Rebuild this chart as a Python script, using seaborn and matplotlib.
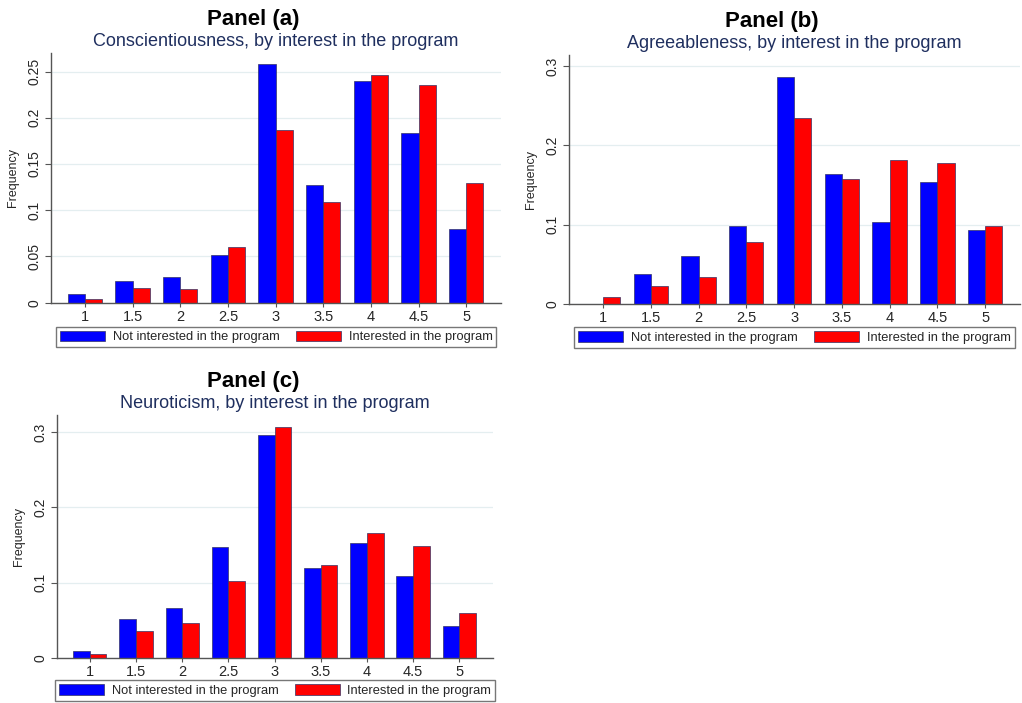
import matplotlib
matplotlib.use("Agg")
import matplotlib.pyplot as plt
import pandas as pd
import seaborn as sns

SCORES = ["1", "1.5", "2", "2.5", "3", "3.5", "4", "4.5", "5"]
GROUPS = ["Not interested in the program", "Interested in the program"]

consc_not = [0.0094, 0.0235, 0.028, 0.0517, 0.258, 0.127, 0.2395, 0.183, 0.080]
consc_int = [0.004, 0.016, 0.0145, 0.060, 0.187, 0.109, 0.2457, 0.235, 0.129]

agree_not = [0.0, 0.0374, 0.0606, 0.098, 0.2857, 0.1637, 0.103, 0.1544, 0.0938]
agree_int = [0.0088, 0.023, 0.0337, 0.078, 0.2348, 0.1578, 0.182, 0.1784, 0.0989]

neuro_not = [0.0089, 0.0523, 0.0665, 0.148, 0.2964, 0.1192, 0.1529, 0.1094, 0.0425]
neuro_int = [0.0058, 0.0363, 0.0465, 0.102, 0.307, 0.124, 0.1653, 0.1493, 0.0598]

PALETTE = {GROUPS[0]: "#0000ff", GROUPS[1]: "#ff0000"}
SUB_COLOR = "#1f2f5f"

sns.set_theme(style="white")
plt.rcParams["font.family"] = ["Liberation Sans", "DejaVu Sans"]

FIG_H_PX = 703


def panel(fig, rect, not_vals, int_vals, title, subtitle, ylim, yticks, yticklabels,
          legend_gap_px=24):
    ax = fig.add_axes(rect)
    df = pd.DataFrame({
        "score": SCORES * 2,
        "freq": list(not_vals) + list(int_vals),
        "group": [GROUPS[0]] * len(SCORES) + [GROUPS[1]] * len(SCORES),
    })
    sns.barplot(data=df, x="score", y="freq", hue="group", order=SCORES,
                hue_order=GROUPS, palette=PALETTE, saturation=1, width=0.72,
                edgecolor="#333366", linewidth=0.5, ax=ax)
    ax.set_xlim(-0.71, 8.73)
    ax.set_ylim(*ylim)
    ax.set_yticks(yticks)
    ax.set_yticklabels(yticklabels, rotation=90, va="center", fontsize=10)
    ax.tick_params(axis="x", labelsize=10.5, length=3, width=0.8, color="#555555",
                   pad=2, bottom=True)
    ax.tick_params(axis="y", length=4, width=0.8, color="#555555", pad=3, left=True)
    ax.yaxis.grid(True, color="#e4eef0", lw=0.9)
    ax.set_axisbelow(True)
    for side in ["top", "right"]:
        ax.spines[side].set_visible(False)
    for side in ["left", "bottom"]:
        ax.spines[side].set_color("#555555")
        ax.spines[side].set_linewidth(1.0)
    ax.set_xlabel("")
    ax.set_ylabel("Frequency", fontsize=9, labelpad=6)

    x0, y0, w, h = rect
    handles, labels = ax.get_legend_handles_labels()
    ax.get_legend().remove()
    anchor_y = -legend_gap_px / (h * FIG_H_PX)
    leg = ax.legend(handles, labels, loc="upper center", bbox_to_anchor=(0.5, anchor_y),
                    ncol=2, fontsize=9.3, frameon=True, fancybox=False,
                    edgecolor="#555555", handlelength=3.5, handleheight=0.9,
                    columnspacing=1.25, borderpad=0.3, handletextpad=0.6,
                    borderaxespad=0)
    leg.get_frame().set_linewidth(1.0)
    for hd in leg.legend_handles:
        hd.set_edgecolor("#333366")
        hd.set_linewidth(0.5)

    fig.text(x0 + w * 0.45, y0 + h + 0.047, title, ha="center", va="center",
             fontsize=16, fontweight="bold", color="black")
    fig.text(x0 + w * 0.5, y0 + h + 0.016, subtitle, ha="center", va="center",
             fontsize=13, color=SUB_COLOR)
    return ax


fig = plt.figure(figsize=(10.22, 7.03), dpi=100)

panel(fig, [0.050, 0.5694, 0.4403, 0.3552], consc_not, consc_int,
      "Panel (a)", "Conscientiousness, by interest in the program",
      (0, 0.27), [0, 0.05, 0.1, 0.15, 0.2, 0.25],
      ["0", "0.05", "0.1", "0.15", "0.2", "0.25"], legend_gap_px=24)

panel(fig, [0.5568, 0.5676, 0.4413, 0.3542], agree_not, agree_int,
      "Panel (b)", "Agreeableness, by interest in the program",
      (0, 0.314), [0, 0.1, 0.2, 0.3], ["0", "0.1", "0.2", "0.3"], legend_gap_px=23)

panel(fig, [0.0558, 0.0640, 0.4266, 0.3457], neuro_not, neuro_int,
      "Panel (c)", "Neuroticism, by interest in the program",
      (0, 0.3226), [0, 0.1, 0.2, 0.3], ["0", "0.1", "0.2", "0.3"], legend_gap_px=22)

fig.savefig("out.png", dpi=100)
plt.close(fig)
